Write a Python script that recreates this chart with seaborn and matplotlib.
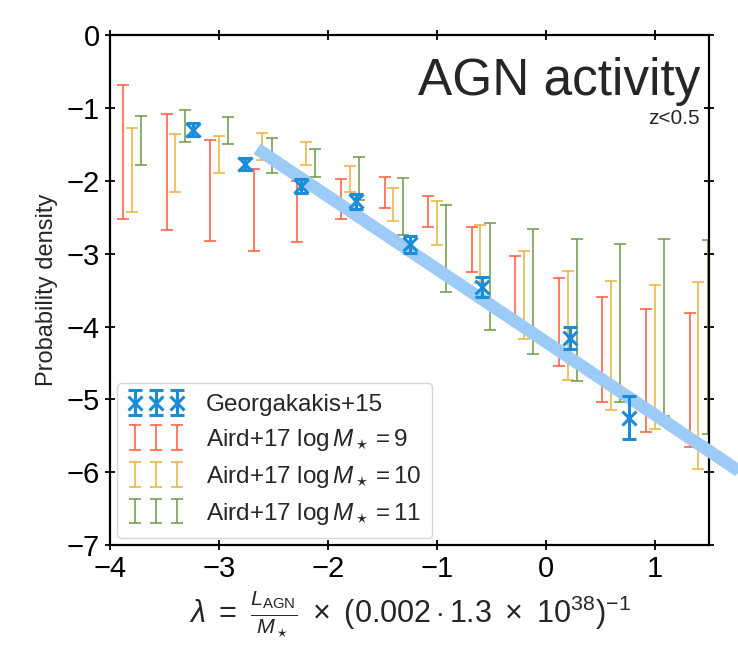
import numpy as np
import pandas as pd
import matplotlib
matplotlib.use("Agg")
import matplotlib.pyplot as plt
import seaborn as sns

# ---------------- data ----------------
bin_centers = [-3.8, -3.4, -3.0, -2.6, -2.2, -1.8, -1.4, -1.0, -0.6, -0.2, 0.2, 0.6, 1.0, 1.4]

m9_lo = [-2.53, -2.68, -2.83, -2.96, -2.84, -2.53, -2.37, -2.64, -3.25, -3.95, -4.54, -5.03, -5.45, -5.65]
m9_hi = [-0.69, -1.08, -1.44, -1.84, -2.00, -1.98, -1.95, -2.21, -2.63, -3.03, -3.34, -3.59, -3.76, -3.81]

m10_lo = [-2.43, -2.15, -1.89, -1.71, -1.78, -2.15, -2.55, -2.88, -3.40, -4.17, -4.74, -5.14, -5.41, -5.95]
m10_hi = [-1.27, -1.36, -1.39, -1.34, -1.47, -1.80, -2.10, -2.27, -2.60, -2.96, -3.24, -3.38, -3.43, -3.39]

m11_lo = [-1.78, -1.47, -1.50, -1.89, -1.95, -2.26, -2.74, -3.53, -4.05, -4.37, -4.75, -5.03, -5.23, -5.48]
m11_hi = [-1.11, -1.02, -1.12, -1.41, -1.56, -1.67, -1.96, -2.33, -2.58, -2.66, -2.80, -2.86, -2.80, -2.81]

g15_x = [-3.24, -2.76, -2.25, -1.74, -1.25, -0.59, 0.22, 0.76]
g15_y = [-1.30, -1.77, -2.07, -2.28, -2.87, -3.46, -4.16, -5.25]
g15_yerr = [0.09, 0.08, 0.10, 0.10, 0.12, 0.14, 0.15, 0.30]

fit_x = [-2.65, 2.3]
fit_y = [-1.56, -6.51]

labels = ["Georgakakis+15",
          r"Aird+17 $\log M_\star=9$",
          r"Aird+17 $\log M_\star=10$",
          r"Aird+17 $\log M_\star=11$"]
offsets = [-0.08, 0.0, 0.085]
colors = ["#ff5a3a", "#e9b33e", "#6f9a4a"]

# ---------------- plot ----------------
sns.set_theme(style="ticks")
plt.rcParams["font.family"] = ["Liberation Sans", "DejaVu Sans"]
plt.rcParams["mathtext.fontset"] = "custom"
plt.rcParams["mathtext.rm"] = "Liberation Sans"
plt.rcParams["mathtext.it"] = "Liberation Sans:italic"
plt.rcParams["mathtext.bf"] = "Liberation Sans:bold"

fig = plt.figure(figsize=(7.38, 6.52), dpi=100)
ax = fig.add_axes([0.149, 0.164, 0.812, 0.782])

handles = []
for lo, hi, off, col, lab in zip([m9_lo, m10_lo, m11_lo], [m9_hi, m10_hi, m11_hi],
                                 offsets, colors, labels[1:]):
    lo = np.array(lo); hi = np.array(hi)
    xs = np.array(bin_centers) + off
    mid = (lo + hi) / 2
    err = (hi - lo) / 2
    h = ax.errorbar(xs, mid, yerr=err, fmt="none", ecolor=col, elinewidth=1.4,
                    capsize=4.5, capthick=1.4, alpha=0.8, label=lab, zorder=2)
    handles.append(h)

df_fit = pd.DataFrame({"x": fit_x, "y": fit_y})
sns.lineplot(data=df_fit, x="x", y="y", ax=ax, color="#9ccbf7", linewidth=9,
             solid_capstyle="butt", clip_on=False, zorder=3, legend=False)

hg = ax.errorbar(g15_x, g15_y, yerr=g15_yerr, fmt="x", color="#1a8cd8",
                 ecolor="#1a8cd8", markersize=10, mew=2.2, elinewidth=2.2,
                 capsize=5, capthick=2.2, label=labels[0], zorder=4)
handles = [hg] + handles

ax.set_xlim(-4, 1.5)
ax.set_ylim(-7, 0)
ax.set_xticks([-4, -3, -2, -1, 0, 1])
ax.set_yticks([0, -1, -2, -3, -4, -5, -6, -7])
ax.tick_params(direction="inout", length=7, width=1.3, labelsize=21,
               top=True, right=True, colors="black", pad=4)
for s in ax.spines.values():
    s.set_linewidth(1.6)
    s.set_color("black")

ax.set_ylabel("Probability density", fontsize=17, labelpad=6)
ax.set_xlabel(r"$\lambda\ =\ \frac{L_{\rm AGN}}{M_\star}\ \times\ (0.002\cdot 1.3\ \times\ 10^{38})^{-1}$",
              fontsize=22, labelpad=4)

ax.text(0.985, 0.958, "AGN activity", transform=ax.transAxes, ha="right", va="top",
        fontsize=37)
ax.text(0.985, 0.855, "z<0.5", transform=ax.transAxes, ha="right", va="top",
        fontsize=15)

leg = ax.legend(handles=handles, labels=labels, loc="lower left", numpoints=3,
                fontsize=17.5, handlelength=2.3, frameon=True, fancybox=True,
                borderaxespad=0.3, handletextpad=0.9, labelspacing=0.45,
                borderpad=0.45)
leg.get_frame().set_edgecolor("#cccccc")

fig.savefig("out.png", dpi=100)
